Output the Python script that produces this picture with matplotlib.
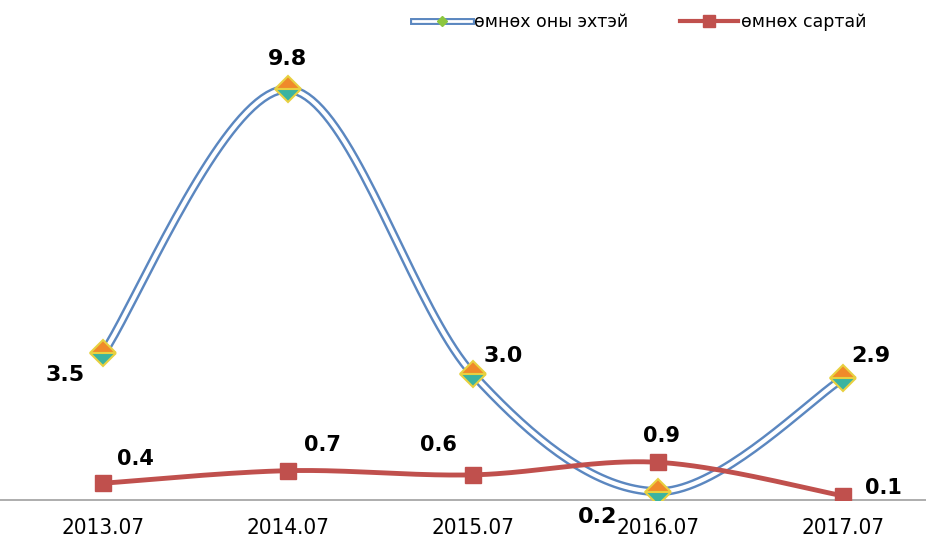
import numpy as np
import matplotlib
matplotlib.use("Agg")
import matplotlib.pyplot as plt
from matplotlib.lines import Line2D
from matplotlib import font_manager

periods = ["2013.07", "2014.07", "2015.07", "2016.07", "2017.07"]
yoy = [3.5, 9.8, 3.0, 0.2, 2.9]        # өмнөх оны эхтэй
mom = [0.4, 0.7, 0.6, 0.9, 0.1]        # өмнөх сартай
yoy_name = "өмнөх оны эхтэй"
mom_name = "өмнөх сартай"

blue = "#5B87C0"
red = "#C0504D"

names = {f.name for f in font_manager.fontManager.ttflist}
tick_font = "Liberation Sans Narrow" if "Liberation Sans Narrow" in names else "DejaVu Sans"


def smooth(x, y, n=40):
    # catmull-rom as bezier, roughly like excel's smoothed line
    x = np.asarray(x, float); y = np.asarray(y, float)
    px = np.r_[x[0], x, x[-1]]; py = np.r_[y[0], y, y[-1]]
    t = np.linspace(0, 1, n)
    xs, ys = [], []
    for i in range(len(x) - 1):
        p0 = np.array([px[i + 1], py[i + 1]]); p3 = np.array([px[i + 2], py[i + 2]])
        c1 = p0 + (np.array([px[i + 2], py[i + 2]]) - np.array([px[i], py[i]])) / 6
        c2 = p3 - (np.array([px[i + 3], py[i + 3]]) - np.array([px[i + 1], py[i + 1]])) / 6
        b = ((1 - t) ** 3)[:, None] * p0 + (3 * (1 - t) ** 2 * t)[:, None] * c1 \
            + (3 * (1 - t) * t ** 2)[:, None] * c2 + (t ** 3)[:, None] * p3
        xs.append(b[:, 0]); ys.append(b[:, 1])
    return np.concatenate(xs), np.concatenate(ys)


fig = plt.figure(figsize=(9.26, 5.44), dpi=100)
ax = fig.add_axes([0, 44 / 544, 1, 500 / 544])
x = np.arange(len(periods))

# blue double line
sx, sy = smooth(x, yoy)
ax.plot(sx, sy, color=blue, lw=6.5, solid_capstyle="round", zorder=2)
ax.plot(sx, sy, color="white", lw=3, solid_capstyle="round", zorder=3)
ax.plot(x, yoy, "D", ms=13, fillstyle="top", markerfacecolor="#F08A2A",
        markerfacecoloralt="#3BB3A0", markeredgecolor="#E8D040", mew=1.5, zorder=5)

# red line
rx, ry = smooth(x, mom)
ax.plot(rx, ry, color=red, lw=3.5, zorder=4)
ax.plot(x, mom, "s", ms=12, color=red, zorder=6)

# data labels
yoy_off = [(-38, -22), (0, 30), (30, 18), (-60, -25), (28, 22)]
mom_off = [(32, 24), (34, 26), (-35, 30), (4, 26), (40, 8)]
for xi, v, (dx, dy) in zip(x, yoy, yoy_off):
    ax.annotate(f"{v:.1f}", (xi, v), xytext=(dx, dy), textcoords="offset pixels",
                ha="center", va="center", fontsize=16, fontweight="bold", zorder=7)
for xi, v, (dx, dy) in zip(x, mom, mom_off):
    ax.annotate(f"{v:.1f}", (xi, v), xytext=(dx, dy), textcoords="offset pixels",
                ha="center", va="center", fontsize=15, fontweight="bold", zorder=7)

ax.set_xlim(-103 / 185, 823 / 185)
ax.set_ylim(0, 500 / 41.9)
for s in ["top", "right", "left"]:
    ax.spines[s].set_visible(False)
ax.spines["bottom"].set_color("#A0A0A0")
ax.spines["bottom"].set_linewidth(1.2)
ax.set_yticks([])
ax.set_xticks(x)
ax.set_xticklabels(periods, fontsize=16, family=tick_font, fontstretch="condensed")
ax.tick_params(axis="x", length=0, pad=13)

h1 = (Line2D([], [], color=blue, lw=5),
      Line2D([], [], color="white", lw=2),
      Line2D([], [], marker="D", ms=5, ls="none", color="#8CC63F"))
h2 = Line2D([], [], color=red, lw=3, marker="s", ms=8)
fig.legend([h1, h2], [yoy_name, mom_name], loc="center", bbox_to_anchor=(640 / 926, 1 - 22 / 544),
           ncol=2, frameon=False, fontsize=12.5, handlelength=3.3, handletextpad=0.2,
           columnspacing=3.0)

fig.savefig("out.png", dpi=100)
